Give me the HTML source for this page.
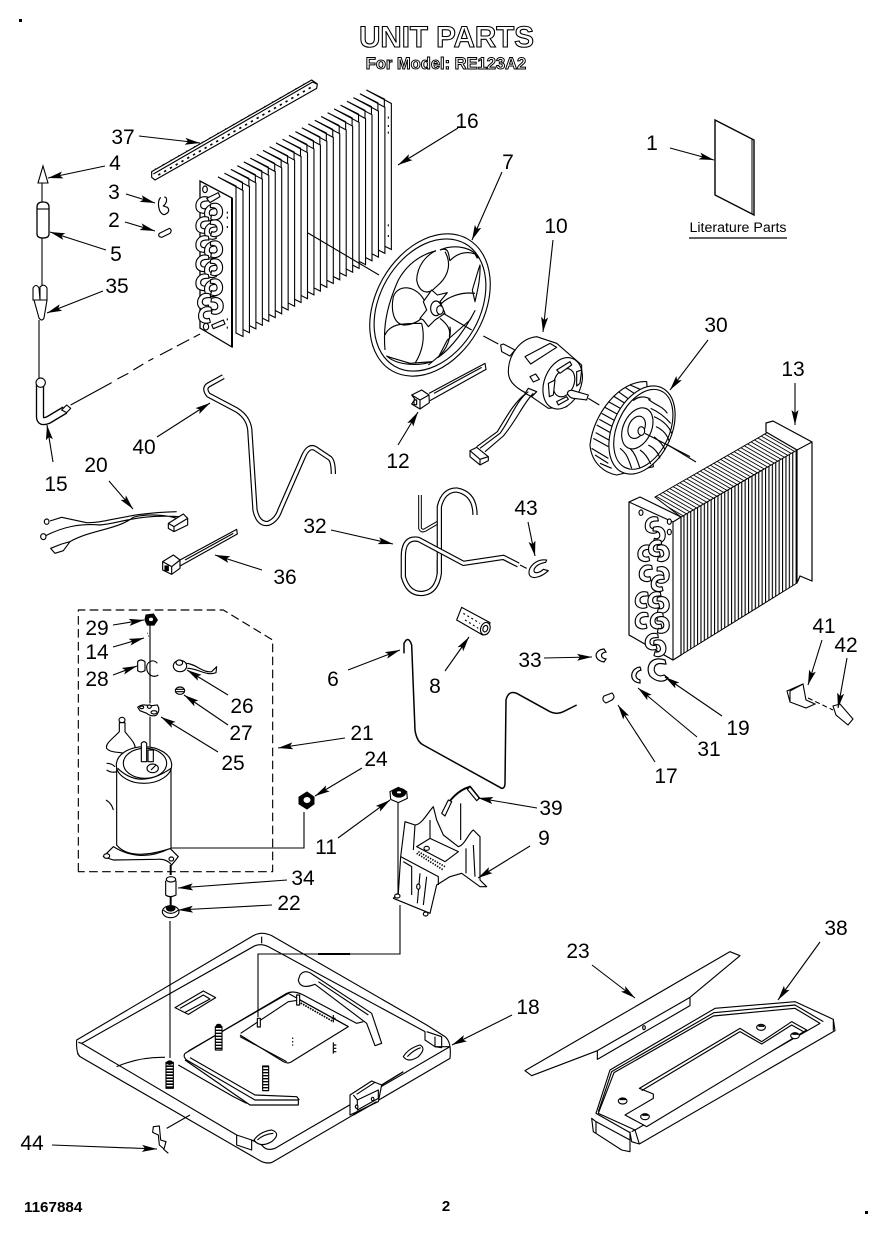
<!DOCTYPE html>
<html><head><meta charset="utf-8"><title>Unit Parts</title>
<style>
html,body{margin:0;padding:0;background:#fff;width:888px;height:1234px;overflow:hidden}
svg{display:block}
text{font-family:"Liberation Sans",sans-serif;fill:#000}
.n{font-size:21px}
.l{stroke:#000;stroke-width:1.1;fill:none}
.a{stroke:#000;stroke-width:1.1;fill:none;marker-end:url(#ah)}
.z *{stroke:#000;stroke-width:3.4;fill:#fff;stroke-linejoin:round}
.z .o{fill:none}
.z .k{fill:#000}
.tb{fill:none!important;stroke:#000;stroke-width:16;stroke-linecap:butt}
.tw{fill:none!important;stroke:#fff!important;stroke-width:9;stroke-linecap:butt}
</style></head><body>
<svg xmlns="http://www.w3.org/2000/svg" width="888" height="1234" viewBox="0 0 888 1234">
<defs>
<marker id="ah" markerUnits="userSpaceOnUse" markerWidth="17" markerHeight="9" refX="15" refY="4" orient="auto"><path d="M0 .5L15 4L0 7.5L3 4Z" fill="#000"/></marker>
<pattern id="vf" patternUnits="userSpaceOnUse" width="3.4" height="10"><rect width="3.4" height="10" fill="#fff"/><rect width="1.1" height="10" fill="#000"/></pattern>
<pattern id="df" patternUnits="userSpaceOnUse" width="3.4" height="3.9" patternTransform="skewY(30)"><rect width="3.4" height="3.9" fill="#fff"/><rect width="3.4" height="1" fill="#000"/></pattern>
<path id="hp" d="M23-23C0-31-17-13-14 8C-12 22 6 29 21 22L18 10C6 14-1 8 0-1C1-10 10-13 25-12Z" fill="#fff" stroke="#000" stroke-width="3.4"/>
<path id="hq" d="M-18-23C8-32 21-13 17 8C13 23-5 29-18 22L-15 10C-5 14 3 8 1-1C0-10-8-13-19-12Z" fill="#fff" stroke="#000" stroke-width="3.4"/>
<polygon id="fin" points="218,177 243,190.5 243,336.5 236,333 236,186" fill="#fff" stroke="#000" stroke-width="1.1"/>
</defs>
<rect width="888" height="1234" fill="#fff"/>
<rect x="19" y="19" width="3" height="3" fill="#000"/><rect x="865" y="1211" width="3" height="3" fill="#000"/>

<!-- titles -->
<text x="446.500" y="47" text-anchor="middle" font-size="29.500" font-weight="700" style="fill:#fff;stroke:#000;stroke-width:1.100">UNIT PARTS</text>
<text x="446" y="69" text-anchor="middle" font-size="16.500" font-weight="700" style="fill:#fff;stroke:#000;stroke-width:1">For Model: RE123A2</text>
<text x="24" y="1212" font-size="15.200" font-weight="700">1167884</text>
<text x="446" y="1211" text-anchor="middle" font-size="15" font-weight="700">2</text>

<!-- literature -->
<polygon points="715,120 754,140 754,215 715,195" fill="#fff" stroke="#000" stroke-width="1.400"/>
<path d="M752 139V214" stroke="#000" stroke-width="1"/>
<text x="738" y="232" text-anchor="middle" font-size="14.200">Literature Parts</text>
<path d="M689 238H787" stroke="#000" stroke-width="1.200"/>

<!-- left coil fins -->
<use href="#fin" x="148.350" y="-87"/><use href="#fin" x="141.900" y="-83.200"/><use href="#fin" x="135.450" y="-79.400"/><use href="#fin" x="129" y="-75.700"/><use href="#fin" x="122.550" y="-71.900"/><use href="#fin" x="116.100" y="-68.100"/><use href="#fin" x="109.650" y="-64.300"/><use href="#fin" x="103.200" y="-60.500"/><use href="#fin" x="96.750" y="-56.700"/><use href="#fin" x="90.300" y="-53"/><use href="#fin" x="83.850" y="-49.200"/><use href="#fin" x="77.400" y="-45.400"/><use href="#fin" x="70.950" y="-41.600"/><use href="#fin" x="64.500" y="-37.800"/><use href="#fin" x="58.050" y="-34"/><use href="#fin" x="51.600" y="-30.300"/><use href="#fin" x="45.150" y="-26.500"/><use href="#fin" x="38.700" y="-22.700"/><use href="#fin" x="32.250" y="-18.900"/><use href="#fin" x="25.800" y="-15.100"/><use href="#fin" x="19.350" y="-11.300"/><use href="#fin" x="12.900" y="-7.600"/><use href="#fin" x="6.450" y="-3.800"/><use href="#fin"/>
<polygon points="200,181 232,198 232,347 200,328" fill="#fff" stroke="#000" stroke-width="1.300"/>
<path d="M232 198V347" stroke="#000" stroke-width="2"/>
<path d="M308 233L379 275" class="l"/>
<g class="z" transform="translate(130,70) scale(.33333)">
<polygon points="65,305 545,30 562,42 560,55 75,330 65,322"/>
<path d="M70 312L548 36M548 36L560 42" class="o"/>
<path d="M85 315L550 48" class="o" stroke-dasharray="7 13" style="stroke-width:5"/>
<path d="M75 298L530 38" class="o" stroke-dasharray="3 24" style="stroke-width:4"/>
<use href="#hp" x="212" y="405"/><use href="#hp" x="238" y="428"/><use href="#hq" x="260" y="425"/>
<use href="#hp" x="212" y="465"/><use href="#hp" x="238" y="483"/><use href="#hq" x="260" y="475"/>
<use href="#hp" x="212" y="522"/><use href="#hp" x="238" y="540"/><use href="#hq" x="260" y="538"/>
<use href="#hp" x="212" y="580"/><use href="#hp" x="238" y="598"/><use href="#hq" x="260" y="592"/>
<use href="#hp" x="212" y="637"/><use href="#hp" x="238" y="655"/><use href="#hq" x="260" y="652"/>
<use href="#hp" x="217" y="695"/><use href="#hq" x="262" y="708"/><use href="#hp" x="220" y="735"/>
<ellipse cx="225" cy="358" rx="7" ry="10"/><ellipse cx="228" cy="770" rx="8" ry="10"/>
<path d="M230 385L265 368L270 380L240 398ZM245 765L280 750L285 762L250 776Z"/>
<path d="M292 425v6M292 440v6M292 468v6M292 745v6M292 770v6M775 140v6M775 165v6M775 185v6M775 463v6M775 495v6" class="o"/>
<path d="M92 382C80 395 85 430 102 434C116 430 120 420 112 412L100 408C115 395 110 378 103 382" class="o" style="stroke-width:3.500"/>
<path d="M88 490L118 475Q128 480 120 490L95 502Q82 500 88 490Z"/>
</g>

<!-- capillary + small parts at far left -->
<path d="M42 182V202M42 238V285M39 320V378" class="l"/>
<polygon points="43,166 48,183 38,183" fill="#fff" stroke="#000" stroke-width="1.100"/>
<path d="M37 207Q37 202 43 202Q49 202 49 207V234Q49 238 43 238Q37 238 37 234Z" fill="#fff" stroke="#000" stroke-width="1.300"/>
<path d="M37 209H49" class="l"/>
<path d="M33 288Q36 283 39 288L40 300H33ZM40 287Q44 283 47 288L47 300H40ZM34 300H47L44 318Q42 322 39 318Z" fill="#fff" stroke="#000" stroke-width="1.100"/>
<g class="z" transform="translate(20,360) scale(.33333)">
<path d="M60 70V170Q60 190 85 180L135 150" class="tb" style="stroke-width:25"/>
<path d="M60 70V170Q60 190 85 180L135 150" class="tw" style="stroke-width:17"/>
<ellipse cx="62" cy="68" rx="14" ry="14"/>
<path d="M125 150L140 135L152 145L140 158Z"/>
<path d="M152 135L275 68M292 57L325 40M340 30L370 12M385 3L400-5" class="o"/>
<path d="M610 50L565 75Q550 85 565 105L650 150Q690 175 690 220L705 450Q715 495 745 490Q770 480 780 450L850 290Q865 255 885 265L930 295Q940 305 940 342" class="tb"/>
<path d="M610 50L565 75Q550 85 565 105L650 150Q690 175 690 220L705 450Q715 495 745 490Q770 480 780 450L850 290Q865 255 885 265L930 295Q940 305 940 342" class="tw"/>
<path d="M90 483L125 472L200 488C260 490 320 458 470 455M75 528C130 500 180 490 240 495C300 490 350 462 480 470M150 545C210 510 290 510 340 472C380 460 440 465 470 475" class="o"/>
<ellipse cx="80" cy="485" rx="7" ry="8"/><ellipse cx="70" cy="530" rx="8" ry="9"/>
<path d="M92 565L125 552L150 545L130 572L105 580Z"/>
<path d="M445 490L490 462L503 475L503 495L462 515L445 505Z"/><path d="M445 490L462 500L503 475M462 500V515" class="o"/>
<path d="M480 600L650 508L652 522L480 618M495 600L640 520" class="o"/>
<path d="M428 605L460 585L480 600L480 625L455 643L428 630Z"/><path d="M428 605L455 620L480 600M455 620V643" class="o"/>
<rect x="435" y="618" width="10" height="14" class="k"/>
</g>
<path d="M160 355L200 334" class="l" stroke-dasharray="14 5"/>

<!-- tube 32 / 43 / 8 / 6 -->
<g class="z" transform="translate(380,480) scale(.33333)">
<path d="M120 45V145Q125 155 135 150L178 125" class="tb" style="stroke-width:11"/>
<path d="M120 45V145Q125 155 135 150L178 125" class="tw" style="stroke-width:5"/>
<path d="M178 280V80Q190 30 230 30Q285 40 285 105" class="tb"/>
<path d="M178 280V80Q190 30 230 30Q285 40 285 105" class="tw"/>
<path d="M415 255L370 232L250 250L115 178Q70 170 70 230V290Q85 345 130 340Q170 335 178 280V240" class="tb"/>
<path d="M415 255L370 232L250 250L115 178Q70 170 70 230V290Q85 345 130 340Q170 335 178 280V240" class="tw"/>
<path d="M420 255L440 265" class="o"/>
<path d="M500 240C470 235 445 260 447 280C450 300 480 295 505 272L490 268C478 280 460 282 462 270C465 258 480 250 497 247Z"/>
<path d="M245 382L330 428L322 462L308 465L230 420Z"/>
<ellipse cx="316" cy="446" rx="14" ry="19" transform="rotate(20 316 446)"/>
<ellipse cx="316" cy="446" rx="7" ry="10" transform="rotate(20 316 446)"/>
<path d="M250 400L300 430M255 420L295 445" class="o" stroke-dasharray="6 8"/>
<path d="M72 520V490Q85 465 95 495L105 750Q110 785 130 795L365 925Q375 925 375 910L378 660Q385 630 410 640L510 695Q530 705 550 695L590 675" class="o" style="stroke-width:4.500"/>
</g>

<!-- fan, motor -->
<g class="z" transform="translate(360,230) scale(.33333)">
<ellipse cx="210" cy="225" rx="228" ry="162" transform="rotate(-60 210 225)"/>
<ellipse cx="210" cy="225" rx="212" ry="150" transform="rotate(-60 210 225)" class="o"/>
<path d="M240 60C280 42 340 50 355 85M360 105C362 150 350 190 345 215L337 180L355 120ZM345 242C320 290 280 350 235 382L262 330L330 270ZM215 395C170 410 110 405 80 378L90 382L150 400ZM75 360C70 300 75 240 115 150C140 105 180 75 228 62" class="o"/>
<path d="M240 60C270 48 265 80 270 92C290 70 320 62 345 72L352 85" class="o"/>
<path d="M255 65C275 100 265 135 240 160L218 180C195 195 175 180 170 150C172 105 200 75 228 62" class="o"/>
<path d="M345 190C305 185 265 200 245 220L235 210M195 215C170 165 115 160 100 200C92 240 100 280 130 285C160 285 180 270 190 260" class="o"/>
<path d="M185 280C130 280 90 280 75 315M185 280C195 320 190 360 165 400M270 290C275 320 260 360 235 380L205 405M240 265C265 285 272 300 268 320" class="o"/>
<path d="M190 215L215 180L232 195L262 188L240 215L255 250L225 270L205 290L190 270L180 265L200 240Z"/>
<ellipse cx="228" cy="235" rx="16" ry="22"/><ellipse cx="240" cy="240" rx="10" ry="13"/>
<path d="M250 250L255 253L335 300M370 318L415 342" class="o"/>
<path d="M422 345L430 342L465 360L450 378L425 365Z"/>
<path d="M530 320C480 325 445 375 445 425C445 450 460 470 500 490L565 535L620 530L665 450L665 405L590 340Z"/>
<path d="M495 380L570 340L590 352L512 402Z"/>
<ellipse cx="608" cy="460" rx="55" ry="80" transform="rotate(22 608 460)"/>
<ellipse cx="612" cy="458" rx="30" ry="44" transform="rotate(22 612 458)" class="o"/>
<path d="M590 420L630 395L635 405L600 430ZM650 425L665 420L660 460L650 468ZM565 460L585 450L580 495L568 500ZM590 515L620 500L625 508L595 525Z"/>
<path d="M622 490Q625 478 640 482L685 495L680 510L640 505Q628 503 622 490Z"/>
<path d="M510 440L527 432L538 448L520 456Z"/>
<path d="M685 505L718 525" class="o"/>
<path d="M505 475L530 485L515 500L495 490Z"/>
<path d="M505 485C470 510 450 570 420 610L360 655M520 490C490 520 470 570 430 618L375 665M498 490C460 520 440 560 412 605L350 650" class="o"/>
<path d="M330 662L350 652L385 680L385 692L360 705L330 680Z"/>
<path d="M330 662L360 688L385 680M360 688V705" class="o"/>
<path d="M165 508L155 495L185 480L207 495L208 518L180 537L155 522Z"/>
<path d="M155 495L180 510L207 495M180 510V537" class="o"/>
<path d="M207 490L375 400L378 418L210 512M222 490L365 412" class="o"/>
<rect x="162" y="510" width="8" height="14" class="o"/>
</g>
<!-- blower wheel -->
<g class="z" transform="translate(580,370) scale(.33333)">
<path d="M200 35C120 30 40 130 30 225C35 285 80 310 110 315L220 290L200 35Z"/>
<path d="M40 205L85 230M47 188L90 212M50 165L95 190M58 148L102 172M65 130L110 155M75 112L120 137M85 95L130 120M100 78L140 103M115 65L150 90M135 52L170 75M150 45L190 62M35 235L85 265M45 255L85 280M60 280L95 295" class="o"/>
<ellipse cx="186" cy="180" rx="88" ry="140" transform="rotate(25 186 180)"/>
<ellipse cx="190" cy="178" rx="78" ry="127" transform="rotate(25 190 178)" class="o"/>
<path d="M205 88C225 105 250 110 262 130M212 115C235 125 255 140 272 160M222 140C245 150 265 165 275 190M228 170C250 180 262 195 268 215M222 200C240 215 250 225 255 240M205 225C225 235 235 250 240 265M180 240C195 250 205 265 212 282M150 235C165 250 170 265 180 295M120 235C140 250 145 265 155 295M160 92C175 78 195 78 212 88" class="o"/>
<ellipse cx="172" cy="175" rx="42" ry="65" transform="rotate(25 172 175)"/>
<ellipse cx="170" cy="172" rx="24" ry="35" transform="rotate(25 170 172)"/>
<ellipse cx="184" cy="183" rx="10" ry="13"/>
<path d="M195 190L330 260" class="o"/>
</g>
<path d="M668 445L696 462" class="l"/>

<!-- right coil -->
<polygon points="681,517 797,450 797,583 681,655" fill="url(#vf)" stroke="#000" stroke-width="1"/>
<polygon points="655,497 770,431 797,450 681,517" fill="url(#df)" stroke="#000" stroke-width="1"/>
<path d="M773 421L812 442V581L800 576L797 583V450L766 432V423Z" fill="#fff" stroke="#000" stroke-width="1.200"/>
<path d="M797 450L812 442" class="l"/>
<polygon points="629,502 640,497 681,517 681,655 673,660 629,635" fill="#fff" stroke="#000" stroke-width="1.200"/>
<path d="M629 502L673 522V660M673 522L681 517" class="l"/>
<g class="z" transform="translate(620,410) scale(.33333)">
<use href="#hp" x="90" y="345"/><use href="#hq" x="118" y="375"/>
<use href="#hp" x="68" y="430"/><use href="#hp" x="100" y="415"/><use href="#hq" x="130" y="430"/>
<use href="#hp" x="72" y="490"/><use href="#hq" x="130" y="495"/><use href="#hp" x="108" y="520"/>
<use href="#hp" x="60" y="570"/><use href="#hp" x="98" y="570"/><use href="#hq" x="130" y="585"/>
<use href="#hp" x="60" y="632"/><use href="#hp" x="105" y="632"/><use href="#hq" x="130" y="645"/>
<use href="#hp" x="90" y="695"/><use href="#hq" x="120" y="715"/>
<ellipse cx="63" cy="308" rx="6" ry="8"/><ellipse cx="148" cy="335" rx="6" ry="8"/><ellipse cx="148" cy="366" rx="6" ry="8"/>
</g>
<!-- small clips right -->
<path d="M604 649C594 650 593 660 604 662L606 659C600 658 600 653 606 652Z" fill="#fff" stroke="#000" stroke-width="1.200"/>
<path d="M640 667C630 668 628 682 640 683L640 680C634 678 635 672 641 670Z" fill="#fff" stroke="#000" stroke-width="1.200"/>
<path d="M665 660C650 655 645 668 650 676C656 682 664 683 668 678L664 675C658 678 652 672 655 666C658 662 662 664 666 664Z" fill="#fff" stroke="#000" stroke-width="1.200"/>
<path d="M604 696L612 693Q616 697 612 700L606 703Q601 700 604 696Z" fill="#fff" stroke="#000" stroke-width="1.100"/>
<path d="M787 691L803 684L806 700L815 704L806 708L790 702Z" fill="#fff" stroke="#000" stroke-width="1.100"/>
<path d="M803 684L790 691V702" class="l"/>
<path d="M808 698L833 710" class="l" stroke-dasharray="5 3"/>
<path d="M833 706L840 704L853 719L848 725L836 715Z" fill="#fff" stroke="#000" stroke-width="1.100"/>

<!-- compressor -->
<g class="z" transform="translate(70,600) scale(.33333)">
<path d="M25 815V30H460L608 120V815Z" class="o" stroke-dasharray="26 13"/>
<path d="M240 75V310M240 350V440" class="o"/>
<polygon points="228,45 250,42 262,60 252,75 232,75 225,60" class="k"/>
<ellipse cx="243" cy="58" rx="8" ry="7"/>
<path d="M232 100h10M234 108h6" class="o" stroke-dasharray="2 4"/>
<path d="M203 185Q212 175 225 185V212Q212 220 203 212Z"/>
<path d="M262 190C250 175 228 185 230 205C232 225 250 235 265 225" class="o"/>
<ellipse cx="330" cy="198" rx="20" ry="17"/><ellipse cx="328" cy="188" rx="10" ry="8"/>
<path d="M348 190C375 190 400 220 425 215L440 200L438 218C410 230 385 205 352 205" class="o"/>
<ellipse cx="330" cy="272" rx="14" ry="11"/><path d="M318 268H342M318 275H342" class="o"/>
<path d="M203 322Q215 310 240 318L262 315Q272 330 260 345Q245 352 230 340L210 332Z"/>
<ellipse cx="252" cy="337" rx="9" ry="5"/><ellipse cx="238" cy="320" rx="6" ry="5"/><ellipse cx="215" cy="322" rx="6" ry="4"/>
<ellipse cx="156" cy="360" rx="9" ry="8"/>
<path d="M148 368V395C130 415 105 430 110 445C120 460 155 455 170 462L195 450C200 430 175 410 165 395V368Z"/>
<path d="M110 490Q125 490 135 500M110 510Q125 520 140 515M108 600Q125 610 130 630" class="o"/>
<path d="M100 770L130 740Q210 790 300 745L325 770L305 795Q290 775 260 778L130 780Z"/>
<ellipse cx="110" cy="768" rx="9" ry="7"/><ellipse cx="304" cy="777" rx="7" ry="6"/>
<path d="M140 495V735Q180 785 303 745V495Z"/>
<ellipse cx="222" cy="495" rx="83" ry="55"/>
<path d="M143 505Q210 570 303 505" class="o"/>
<ellipse cx="225" cy="490" rx="65" ry="45"/>
<path d="M214 430Q222 420 230 430V485H214ZM234 450H250V485H234Z"/>
<ellipse cx="248" cy="505" rx="17" ry="13"/><path d="M243 510L258 495" class="o"/>
<path d="M302 795V825" class="o" style="stroke-width:6"/>
<ellipse cx="303" cy="838" rx="14" ry="8"/>
<path d="M287 842V885Q300 895 318 885V842" class="o"/>
<path d="M302 890V915" class="o" style="stroke-width:6"/>
<ellipse cx="302" cy="935" rx="25" ry="18"/><ellipse cx="302" cy="925" rx="13" ry="8" class="k"/>
<path d="M280 930Q302 950 325 930" class="o"/>
</g>
<path d="M171 848H304V812M398 803V897" class="l"/>
<path d="M299 797L307 792L314 797V804L307 809L299 804Z" fill="#000" stroke="#000"/>
<ellipse cx="307" cy="800" rx="3.500" ry="3" fill="#fff"/>

<!-- nut 11 + bracket 9 -->
<g class="z" transform="translate(380,770) scale(.33333)">
<path d="M30 65L55 52L80 65L82 85L55 98L32 88Z"/>
<ellipse cx="57" cy="68" rx="20" ry="13" class="k"/><ellipse cx="57" cy="67" rx="8" ry="5"/>
<path d="M190 128C205 90 235 60 270 50L298 85" class="o" style="stroke-width:6"/>
<path d="M185 130L205 90L215 95L195 138Z"/><path d="M270 50L298 85L290 92L262 58Z"/>
<path d="M242 100V210" class="o"/>
<path d="M62 260L75 155L105 165C125 165 145 125 160 110L170 150L190 195L235 230C255 225 265 190 280 180L300 200L300 330L320 350L300 350L245 310L210 320L170 345L150 430L40 385L55 370L62 260Z"/>
<path d="M62 260L175 320V345M105 165L100 240M150 150V205M110 230L150 205L235 245L195 275ZM70 275L95 290V375M120 310L112 400M140 320L130 405M258 235V310M280 225L285 320" class="o"/>
<path d="M115 245L195 290M110 250L190 300" class="o" stroke-dasharray="4 4" style="stroke-width:5"/>
<ellipse cx="140" cy="235" rx="8" ry="6"/><ellipse cx="115" cy="350" rx="5" ry="8"/><ellipse cx="52" cy="378" rx="8" ry="6"/><ellipse cx="137" cy="432" rx="7" ry="6"/>
</g>

<!-- base -->
<g class="z" transform="translate(70,925) scale(.33333)">
<path d="M20 345L550 32Q575 18 605 32L1070 300L1125 335Q1145 350 1140 400L610 710Q598 718 575 710L30 395Q18 385 20 345Z"/>
<path d="M25 352L35 355L555 62Q575 55 595 65L1065 320V345L1095 365L1140 365M35 355L500 630V660L545 675V645L575 660Q590 680 615 670L1140 365" class="o"/>
<path d="M575 35V55M22 385L30 395" class="o"/>
<path d="M545 645L500 630M1070 320L1115 335L1115 368L1095 365V335" class="o"/>
<path d="M140 425Q210 395 285 397" class="o"/>
<path d="M315 248L400 198L437 218L355 268Z"/><path d="M330 250L400 210L420 222L345 262" class="o"/>
<path d="M1000 395Q1015 370 1050 360Q1070 370 1045 395Q1015 415 1000 395Z"/><path d="M1012 395Q1030 375 1052 368" class="o"/>
<path d="M552 645Q570 620 605 615Q635 625 605 650Q570 670 552 645Z"/><path d="M562 645Q580 628 610 625" class="o"/>
<path d="M690 150Q705 130 730 150L905 265L935 355L915 362L890 295L735 178Q690 195 685 165Z"/>
<path d="M745 170L895 270" class="o"/>
<path d="M345 385L650 205Q670 195 700 210L860 295L880 290" class="o"/>
<path d="M355 378L655 205L835 305L665 410Q655 418 640 410L510 330" class="o"/>
<path d="M512 325L655 230L690 225L835 305M510 335L650 410" class="o"/>
<path d="M345 385Q338 395 350 405L555 525L685 525V540L540 540L345 405" class="o"/>
<path d="M360 398L555 510L680 515L688 525M325 420L490 515L530 535" class="o"/>
<path d="M685 230L790 290" class="o" stroke-dasharray="5 3" style="stroke-width:5"/>
<rect x="436" y="305" width="20" height="70" />
<path d="M446 305V375" class="o" stroke-dasharray="4 5" style="stroke-width:20"/>
<rect x="578" y="423" width="18" height="74"/>
<path d="M587 423V497" class="o" stroke-dasharray="4 5" style="stroke-width:18"/>
<rect x="288" y="412" width="22" height="78"/>
<path d="M299 412V490" class="o" stroke-dasharray="5 4" style="stroke-width:22"/>
<ellipse cx="299" cy="413" rx="8" ry="5" class="k"/><ellipse cx="446" cy="302" rx="7" ry="4" class="k"/>
<rect x="562" y="280" width="9" height="26"/><rect x="680" y="210" width="9" height="30"/>
<path d="M790 270v22M785 280h12M790 352v34M790 360h9M790 370h9M790 380h9" class="o"/>
<path d="M668 338v4M668 348v4M668 358v4" class="o"/>
<path d="M840 510L905 468L935 480L925 530L840 570Z"/>
<path d="M850 510L862 525V555L925 520V495L862 525M860 508L915 472" class="o"/>
<ellipse cx="860" cy="545" rx="4" ry="5"/><ellipse cx="908" cy="522" rx="4" ry="5"/>
<path d="M935 480L1000 440M850 570L920 530" class="o" style="stroke-width:4"/>
<path d="M360 570L290 610" class="o"/>
<path d="M250 605L268 603L272 645L288 650L282 672L268 660L265 630L248 622Z"/>
<path d="M280 672L295 685" class="o"/>
</g>
<path d="M170 921V1058M400 905V954H258V1017" class="l"/>
<path d="M318 954H350" stroke="#000" stroke-width="2"/>

<!-- pan + foam -->
<g class="z" transform="translate(510,940) scale(.33333)">
<path d="M45 392L660 35L690 47L540 172V197L262 358V332L65 407Z"/>
<path d="M262 332L540 172" class="o"/>
<ellipse cx="402" cy="263" rx="4" ry="6"/>
<path d="M258 520L300 390L615 205L855 185L970 238L975 272L388 612L365 605L360 578Z"/>
<path d="M265 520L312 398L610 228L855 205L930 250L375 570Z" class="o"/>
<path d="M265 515L305 395L612 218L855 195L940 245" class="o"/>
<path d="M388 445L690 265L755 305L845 245L890 270L435 545L410 560L345 525L430 475V462Z"/>
<path d="M395 452L690 275L755 312L845 255L880 275" class="o"/>
<path d="M245 535L258 545L360 600V635L335 630L250 575Z"/>
<path d="M258 545V580M360 575V600M365 575L375 570L388 612M970 238V272" class="o"/>
<ellipse cx="338" cy="483" rx="13" ry="9"/><ellipse cx="405" cy="530" rx="13" ry="9"/><ellipse cx="753" cy="262" rx="13" ry="9"/><ellipse cx="855" cy="287" rx="13" ry="9"/>
<path d="M745 258H762M330 478H348M397 525H414M847 282H864" class="o" style="stroke-width:5"/>
</g>

<!-- leaders -->
<path class="a" d="M139 136L200 143"/><path class="a" d="M458 128L398 165"/>
<path class="a" d="M105 166L48 178"/><path class="a" d="M126 194L155 203"/>
<path class="a" d="M125 222L155 231"/><path class="a" d="M106 250L50 232"/>
<path class="a" d="M103 291L47 313"/><path class="a" d="M502 172L472 240"/>
<path class="a" d="M553 240L543 332"/><path class="a" d="M670 148L714 160"/>
<path class="a" d="M708 340L670 390"/><path class="a" d="M795 383V425"/>
<path class="a" d="M398 445L418 412"/><path class="a" d="M53 462L47 425"/>
<path class="a" d="M157 437L210 403"/><path class="a" d="M109 481L133 509"/>
<path class="a" d="M262 570L215 555"/><path class="a" d="M331 530L393 544"/>
<path class="a" d="M528 522L535 556"/><path class="a" d="M113 625L144 620"/>
<path class="a" d="M113 647L144 638"/><path class="a" d="M113 675L137 666"/>
<path class="a" d="M228 695L187 670"/><path class="a" d="M228 725L184 695"/>
<path class="a" d="M218 752L161 717"/><path class="a" d="M345 738L278 748"/>
<path class="a" d="M362 768L315 796"/><path class="a" d="M338 838L390 800"/>
<path class="a" d="M348 670L400 650"/><path class="a" d="M445 671L469 637"/>
<path class="a" d="M544 658L592 657"/><path class="a" d="M722 716L665 677"/>
<path class="a" d="M697 737L638 688"/><path class="a" d="M655 762L618 705"/>
<path class="a" d="M822 640L808 685"/><path class="a" d="M847 658L838 708"/>
<path class="a" d="M537 808L478 798"/><path class="a" d="M530 846L478 878"/>
<path class="a" d="M287 880L178 888"/><path class="a" d="M272 905L178 910"/>
<path class="a" d="M512 1015L452 1045"/><path class="a" d="M592 965L635 998"/>
<path class="a" d="M820 942L778 1000"/><path class="a" d="M52 1145L157 1149"/>

<!-- labels -->
<g class="n">
<text x="123" y="144" text-anchor="middle">37</text><text x="467" y="128" text-anchor="middle">16</text>
<text x="115" y="170" text-anchor="middle">4</text><text x="114" y="199" text-anchor="middle">3</text>
<text x="114" y="227" text-anchor="middle">2</text><text x="116" y="261" text-anchor="middle">5</text>
<text x="117" y="293" text-anchor="middle">35</text><text x="508" y="169" text-anchor="middle">7</text>
<text x="556" y="233" text-anchor="middle">10</text><text x="652" y="150" text-anchor="middle">1</text>
<text x="716" y="332" text-anchor="middle">30</text><text x="793" y="376" text-anchor="middle">13</text>
<text x="398" y="468" text-anchor="middle">12</text><text x="56" y="491" text-anchor="middle">15</text>
<text x="144" y="454" text-anchor="middle">40</text><text x="96" y="472" text-anchor="middle">20</text>
<text x="285" y="584" text-anchor="middle">36</text><text x="315" y="533" text-anchor="middle">32</text>
<text x="526" y="515" text-anchor="middle">43</text><text x="97" y="635" text-anchor="middle">29</text>
<text x="97" y="659" text-anchor="middle">14</text><text x="97" y="686" text-anchor="middle">28</text>
<text x="242" y="713" text-anchor="middle">26</text><text x="241" y="740" text-anchor="middle">27</text>
<text x="233" y="770" text-anchor="middle">25</text><text x="362" y="740" text-anchor="middle">21</text>
<text x="376" y="766" text-anchor="middle">24</text><text x="326" y="854" text-anchor="middle">11</text>
<text x="333" y="686" text-anchor="middle">6</text><text x="435" y="693" text-anchor="middle">8</text>
<text x="530" y="667" text-anchor="middle">33</text><text x="738" y="735" text-anchor="middle">19</text>
<text x="709" y="756" text-anchor="middle">31</text><text x="666" y="783" text-anchor="middle">17</text>
<text x="824" y="633" text-anchor="middle">41</text><text x="846" y="652" text-anchor="middle">42</text>
<text x="551" y="815" text-anchor="middle">39</text><text x="544" y="845" text-anchor="middle">9</text>
<text x="303" y="885" text-anchor="middle">34</text><text x="289" y="910" text-anchor="middle">22</text>
<text x="528" y="1014" text-anchor="middle">18</text><text x="578" y="958" text-anchor="middle">23</text>
<text x="836" y="935" text-anchor="middle">38</text><text x="32" y="1150" text-anchor="middle">44</text>
</g>
</svg>
</body></html>
